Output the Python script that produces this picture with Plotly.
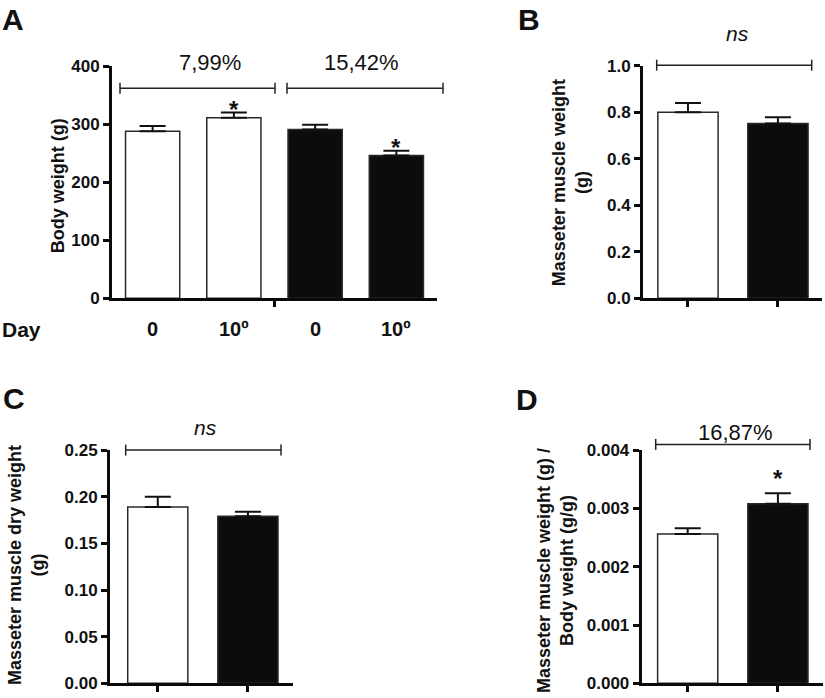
import plotly.graph_objects as go

W, H = 825, 698

# ---------------- data ----------------
# Panel A: body weight (g), days 0 and 10 for two groups
a_days = ["0", "10º", "0", "10º"]
a_colors = ["#ffffff", "#ffffff", "#0c0c0c", "#0c0c0c"]
a_mean = [288, 311, 291, 246]
a_sem = [9, 9, 8, 8]
a_sig = ["", "*", "", "*"]

# Panel B: masseter muscle weight (g)
b_mean = [0.800, 0.751]
b_sem = [0.040, 0.027]

# Panel C: masseter muscle dry weight (g)
c_mean = [0.189, 0.179]
c_sem = [0.011, 0.005]

# Panel D: masseter weight / body weight (g/g)
d_mean = [0.00256, 0.00308]
d_sem = [0.00010, 0.00018]
d_sig = ["", "*"]

two_colors = ["#ffffff", "#0c0c0c"]

FONT = "Liberation Sans, Arial, sans-serif"

# vertical calibration of the page capture (observed: out = 0.973*y + 8.8)
VS, VO = 0.973, 8.8


def px(x):
    return x / W


def py(y):
    yd = (y - VO) / VS
    return 1 - yd / H


fig = go.Figure()


def add_bars(xaxis, yaxis, means, sems, colors, width):
    fig.add_trace(go.Bar(
        x=list(range(len(means))), y=means,
        xaxis=xaxis, yaxis=yaxis,
        width=width,
        marker=dict(color=colors, line=dict(color="#2a2a2a", width=1.5)),
        error_y=dict(type="data", symmetric=False, array=sems,
                     arrayminus=[0] * len(sems),
                     color="#111111", thickness=2, width=13),
        showlegend=False, hoverinfo="skip",
    ))


add_bars("x", "y", a_mean, a_sem, a_colors, 0.667)
add_bars("x2", "y2", b_mean, b_sem, two_colors, 0.67)
add_bars("x3", "y3", c_mean, c_sem, two_colors, 0.667)
add_bars("x4", "y4", d_mean, d_sem, two_colors, 0.667)

axis_common = dict(showline=True, linecolor="#0a0a0a", linewidth=3,
                   ticks="outside", ticklen=6, tickwidth=3, tickcolor="#0a0a0a",
                   showgrid=False, zeroline=False, fixedrange=True,
                   tickfont=dict(family=FONT, size=17, color="#111", weight="bold"))


def xdom(l, r):
    return [px(l), px(r)]


def ydom(top, bottom):
    return [py(bottom), py(top)]


fig.update_layout(
    width=W, height=H,
    margin=dict(l=0, r=0, t=0, b=0),
    paper_bgcolor="white", plot_bgcolor="white",
    showlegend=False,
    bargap=0,
    hovermode=False,
    xaxis=dict(domain=xdom(112, 437), range=[-0.5, 3.5], anchor="y",
               tickvals=[1.5], ticktext=[""], **axis_common),
    yaxis=dict(domain=ydom(66, 298), range=[0, 400], anchor="x",
               tickvals=[0, 100, 200, 300, 400], **axis_common),
    xaxis2=dict(domain=xdom(643, 822), range=[-0.5, 1.49], anchor="y2",
                tickvals=[0, 1], ticktext=["", ""], **axis_common),
    yaxis2=dict(domain=ydom(65.5, 298), range=[0, 1.0], anchor="x2",
                tickvals=[0, 0.2, 0.4, 0.6, 0.8, 1.0], tickformat=".1f", **axis_common),
    xaxis3=dict(domain=xdom(110, 293), range=[-0.53, 1.5], anchor="y3",
                tickvals=[0, 1], ticktext=["", ""], **axis_common),
    yaxis3=dict(domain=ydom(450, 683.3), range=[0, 0.25], anchor="x3",
                tickvals=[0, 0.05, 0.10, 0.15, 0.20, 0.25], tickformat=".2f", **axis_common),
    xaxis4=dict(domain=xdom(641.7, 823), range=[-0.51, 1.5], anchor="y4",
                tickvals=[0, 1], ticktext=["", ""], **axis_common),
    yaxis4=dict(domain=ydom(450, 683.3), range=[0, 0.004], anchor="x4",
                tickvals=[0, 0.001, 0.002, 0.003, 0.004], tickformat=".3f", **axis_common),
)

ann = []

# panel letters
for letter, x, y in [("A", 13, 19), ("B", 529, 19), ("C", 14, 398), ("D", 527, 399)]:
    ann.append(dict(text=letter, x=px(x), y=py(y), xref="paper", yref="paper",
                    xanchor="center", yanchor="middle", showarrow=False,
                    font=dict(family=FONT, size=30, color="#111", weight="bold")))

# y-axis titles
title_font = dict(family=FONT, size=18, color="#111", weight="bold")
for text, x, y in [("Body weight (g)", 58, 185),
                   ("Masseter muscle weight<br>(g)", 570, 183),
                   ("Masseter muscle dry weight<br>(g)", 26, 565),
                   ("Masseter muscle weight (g) /<br>Body weight (g/g)", 555, 571)]:
    ann.append(dict(text=text, x=px(x), y=py(y), xref="paper", yref="paper",
                    xanchor="center", yanchor="middle", textangle=-90,
                    showarrow=False, font=title_font))

# x tick labels of panel A and "Day"
for i, lab in enumerate(a_days):
    ann.append(dict(text=lab, x=i, y=py(329), xref="x", yref="paper",
                    xanchor="center", yanchor="middle", showarrow=False,
                    font=dict(family=FONT, size=20, color="#111", weight="bold")))
ann.append(dict(text="Day", x=px(0), y=py(329), xref="paper", yref="paper",
                xanchor="left", yanchor="middle", showarrow=False,
                font=dict(family=FONT, size=21, color="#111", weight="bold")))

# comparison labels
pct_font = dict(family=FONT, size=22, color="#111")
for text, x, y, italic in [("7,99%", 210, 62, False), ("15,42%", 361, 62, False),
                           ("ns", 737, 33, True), ("ns", 205, 427, True),
                           ("16,87%", 735, 432, False)]:
    t = "<i>%s</i>" % text if italic else text
    f = dict(pct_font)
    if italic:
        f["size"] = 21
    ann.append(dict(text=t, x=px(x), y=py(y), xref="paper", yref="paper",
                    xanchor="center", yanchor="middle", showarrow=False, font=f))

# significance asterisks
star_font = dict(family=FONT, size=24, color="#111", weight="bold")
for i, s in enumerate(a_sig):
    if s:
        ann.append(dict(text=s, x=i, y=a_mean[i] + a_sem[i], xref="x", yref="y",
                        xanchor="center", yanchor="middle", yshift=3,
                        showarrow=False, font=star_font))
for i, s in enumerate(d_sig):
    if s:
        ann.append(dict(text=s, x=i, y=d_mean[i] + d_sem[i], xref="x4", yref="y4",
                        xanchor="center", yanchor="middle", yshift=15,
                        showarrow=False, font=star_font))

fig.update_layout(annotations=ann)

# comparison brackets (pixel positions of the annotation lines)
brackets = [(120, 275, 88), (287, 443, 88), (656.7, 811.7, 65),
            (125.7, 281, 450), (655.7, 810, 444.3)]
shapes = []
lc = dict(color="#222", width=1.5)
for x0, x1, y in brackets:
    shapes.append(dict(type="line", xref="paper", yref="paper",
                       x0=px(x0), x1=px(x1), y0=py(y), y1=py(y), line=lc))
    for xe in (x0, x1):
        shapes.append(dict(type="line", xref="paper", yref="paper",
                           x0=px(xe), x1=px(xe), y0=py(y - 5.5), y1=py(y + 5.5), line=lc))
fig.update_layout(shapes=shapes)

fig.write_html(
    "out.html",
    config={"displayModeBar": False, "staticPlot": True},
    post_script=("document.documentElement.style.margin='0';"
                 "document.documentElement.style.padding='0';"
                 "document.documentElement.style.overflow='hidden';"
                 "document.body.style.margin='0';"
                 "document.body.style.padding='0';"
                 "document.body.style.overflow='hidden';"),
)
